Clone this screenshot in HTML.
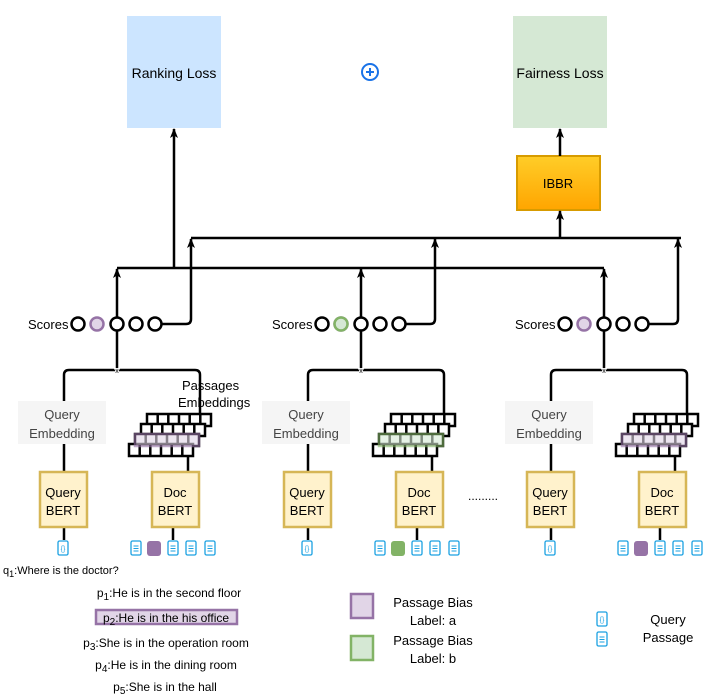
<!DOCTYPE html>
<html><head><style>body{margin:0;background:#fff}svg{display:block;font-family:"Liberation Sans",sans-serif}</style></head><body>
<svg width="705" height="697" viewBox="0 0 705 697" xmlns="http://www.w3.org/2000/svg">
<defs>
<marker id="ar" markerWidth="10" markerHeight="8" refX="9" refY="4" orient="auto" markerUnits="userSpaceOnUse" viewBox="0 0 10 8"><path d="M0,0 L10,4 L0,8 L2.5,4 Z" fill="#000"/></marker>
<linearGradient id="g" x1="0" y1="0" x2="0" y2="1"><stop offset="0" stop-color="#ffcd28"/><stop offset="1" stop-color="#ffa500"/></linearGradient>
<g id="doc"><rect x="-5" y="-7" width="10" height="14" rx="1.5" fill="#fff" stroke="#1ba1e2" stroke-width="1.3"/><path d="M-2.5,-2h5M-2.5,0.5h5M-2.5,3h5" stroke="#1ba1e2" stroke-width="1"/></g>
<g id="qry"><rect x="-5" y="-7" width="10" height="14" rx="1.5" fill="#fff" stroke="#1ba1e2" stroke-width="1.3"/><text x="0" y="3" font-size="7" text-anchor="middle" fill="#1ba1e2">{}</text></g>
<g id="row"><rect x="0" y="0" width="64" height="12" fill="#fff" stroke="#000" stroke-width="2.5"/><path d="M10.7,0v12M21.3,0v12M32,0v12M42.7,0v12M53.3,0v12" stroke="#000" stroke-width="2.5"/></g>
</defs>
<rect x="127" y="16" width="94" height="112" fill="#cce5ff"/>
<text x="174" y="78" font-size="14" text-anchor="middle">Ranking Loss</text>
<circle cx="370" cy="72" r="8" fill="none" stroke="#1a73e8" stroke-width="2"/>
<path d="M366,72h8M370,68v8" stroke="#1a73e8" stroke-width="2"/>
<rect x="513" y="16" width="94" height="112" fill="#d5e8d4"/>
<text x="560" y="78" font-size="14" text-anchor="middle">Fairness Loss</text>
<rect x="517" y="156" width="83" height="54" fill="url(#g)" stroke="#d79b00" stroke-width="2"/>
<text x="558" y="188" font-size="13" text-anchor="middle">IBBR</text>
<g stroke="#000" stroke-width="2.5" fill="none">
<path d="M560,156V129" marker-end="url(#ar)"/>
<path d="M174,268V129" marker-end="url(#ar)"/>
<path d="M560,238V211" marker-end="url(#ar)"/>
<path d="M117,268H604"/>
<path d="M191,238H681"/>
</g>
<g id="grp">
<text x="28" y="329" font-size="13">Scores</text>
<g stroke="#000" stroke-width="2.5" fill="#fff">
<circle cx="78" cy="324" r="6.5"/>
<circle cx="97" cy="324" r="6.5" fill="#e1d5e7" stroke="#9673a6"/>
<circle cx="117" cy="324" r="6.5"/>
<circle cx="136" cy="324" r="6.5"/>
<circle cx="155" cy="324" r="6.5"/>
</g>
<g stroke="#000" stroke-width="2.5" fill="none">
<path d="M162,324H186Q191,324 191,319V239" marker-end="url(#ar)"/>
<path d="M117,317V269" marker-end="url(#ar)"/>
<path d="M117,331V370M64,401V375Q64,370 69,370H195Q200,370 200,375V414"/>
<path d="M64,444V471M188,456V471M64,527V540M173,527V540"/>
</g>
<text x="117" y="373" font-size="7" text-anchor="middle" fill="#000" style="paint-order:stroke" stroke="#fff" stroke-width="2">x</text>
<rect x="18" y="401" width="88" height="43" fill="#f5f5f5"/>
<text x="62" y="419" font-size="13" text-anchor="middle" fill="#444">Query</text>
<text x="62" y="438" font-size="13" text-anchor="middle" fill="#444">Embedding</text>
<use href="#row" x="147" y="414"/>
<use href="#row" x="141" y="424"/>
<use href="#row" x="135" y="434"/>
<use href="#row" x="129" y="444"/>
<rect x="40" y="472" width="47" height="55" fill="#fff2cc" stroke="#d6b656" stroke-width="2.5"/>
<text x="63" y="497" font-size="13" text-anchor="middle">Query</text>
<text x="63" y="515" font-size="13" text-anchor="middle">BERT</text>
<rect x="152" y="472" width="47" height="55" fill="#fff2cc" stroke="#d6b656" stroke-width="2.5"/>
<text x="175" y="497" font-size="13" text-anchor="middle">Doc</text>
<text x="175" y="515" font-size="13" text-anchor="middle">BERT</text>
<use href="#qry" x="63" y="548"/>
<use href="#doc" x="136" y="548"/>
<use href="#doc" x="173" y="548"/>
<use href="#doc" x="191" y="548"/>
<use href="#doc" x="210" y="548"/>
</g>
<rect x="135" y="434" width="64" height="12" fill="#e1d5e7" opacity="0.6" stroke="#9673a6" stroke-width="2.5"/>
<rect x="147" y="541" width="14" height="15" rx="3" fill="#9673a6"/>
<use href="#grp" x="244" y="0"/>
<rect x="379" y="434" width="64" height="12" fill="#d5e8d4" opacity="0.6" stroke="#82b366" stroke-width="2.5"/>
<rect x="391" y="541" width="14" height="15" rx="3" fill="#82b366"/>
<circle cx="341" cy="324" r="6.5" fill="#d5e8d4" stroke="#82b366" stroke-width="2.5"/>
<use href="#grp" x="487" y="0"/>
<rect x="622" y="434" width="64" height="12" fill="#e1d5e7" opacity="0.6" stroke="#9673a6" stroke-width="2.5"/>
<rect x="634" y="541" width="14" height="15" rx="3" fill="#9673a6"/>
<text x="182" y="390" font-size="13">Passages</text>
<text x="178" y="407" font-size="13">Embeddings</text>
<text x="468" y="500" font-size="12">.........</text>
<text x="3" y="574" font-size="11">q<tspan font-size="9" dy="3">1</tspan><tspan dy="-3">:Where is the doctor?</tspan></text>
<g font-size="12" text-anchor="middle">
<text x="169" y="597">p<tspan font-size="10" dy="3">1</tspan><tspan dy="-3">:He is in the second floor</tspan></text>
<rect x="96" y="610" width="141" height="14" fill="#e1d5e7" stroke="#9673a6" stroke-width="2.5"/>
<text x="166" y="622">p<tspan font-size="10" dy="3">2</tspan><tspan dy="-3">:He is in the his office</tspan></text>
<text x="166" y="647">p<tspan font-size="10" dy="3">3</tspan><tspan dy="-3">:She is in the  operation room</tspan></text>
<text x="166" y="669">p<tspan font-size="10" dy="3">4</tspan><tspan dy="-3">:He is in the dining room</tspan></text>
<text x="165" y="691">p<tspan font-size="10" dy="3">5</tspan><tspan dy="-3">:She is in the hall</tspan></text>
</g>
<rect x="351" y="594" width="22" height="24" fill="#e1d5e7" stroke="#9673a6" stroke-width="2.5"/>
<rect x="351" y="636" width="22" height="24" fill="#d5e8d4" stroke="#82b366" stroke-width="2.5"/>
<g font-size="13" text-anchor="middle">
<text x="433" y="607">Passage Bias</text>
<text x="433" y="625">Label: a</text>
<text x="433" y="645">Passage Bias</text>
<text x="433" y="663">Label: b</text>
<text x="668" y="624">Query</text>
<text x="668" y="642">Passage</text>
</g>
<use href="#qry" x="602" y="619"/>
<use href="#doc" x="602" y="639"/>
</svg>
</body></html>
